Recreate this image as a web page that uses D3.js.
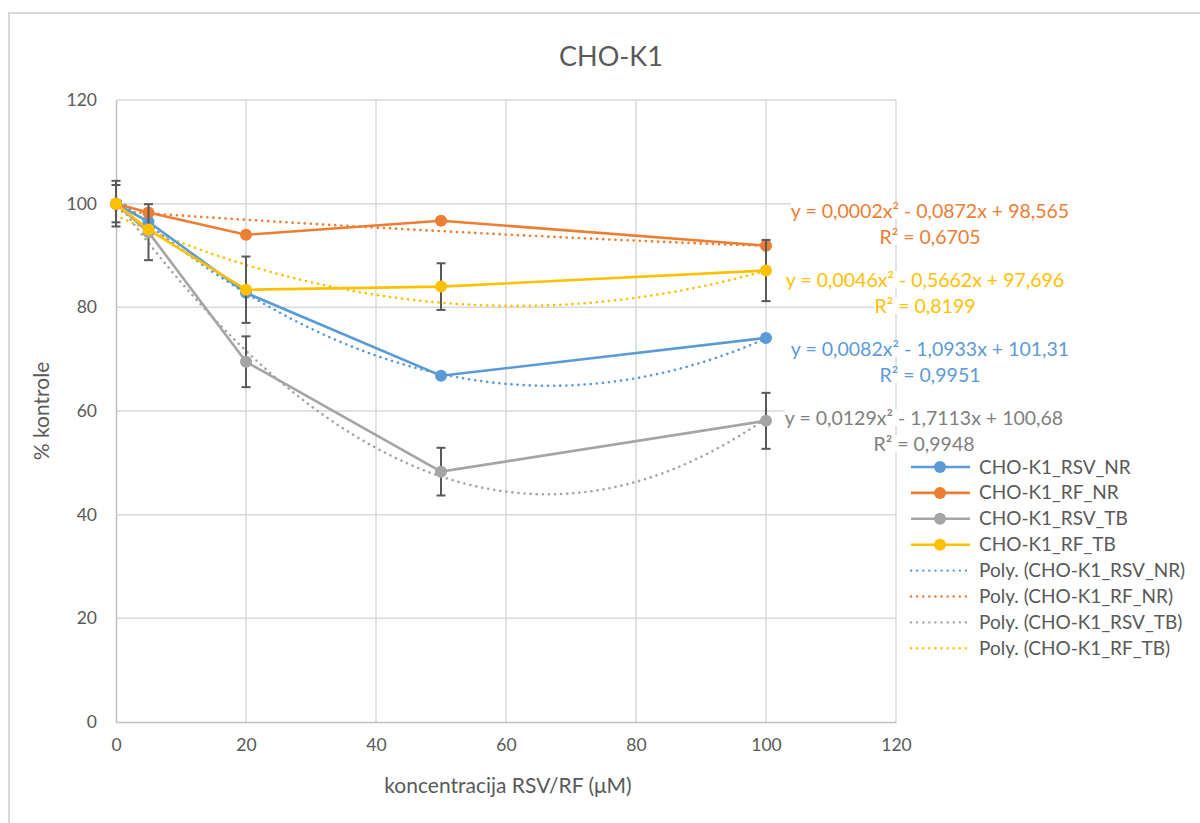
<!DOCTYPE html>
<html><head><meta charset="utf-8">
<script src="https://cdn.jsdelivr.net/npm/d3@7/dist/d3.min.js"></script>
<style>body{margin:0;background:#fff}svg{display:block}text{font-family:Lato,"Open Sans",sans-serif}</style>
</head><body><svg id="c" width="1200" height="823"></svg>
<script>
const concentrations = [0, 5, 20, 50, 100];
const seriesNames = ["CHO-K1_RSV_NR", "CHO-K1_RF_NR", "CHO-K1_RSV_TB", "CHO-K1_RF_TB"];
const seriesColors = ["#5B9BD5", "#ED7D31", "#A5A5A5", "#FFC000"];
const rsvNR = [100, 96.5, 82.8, 66.8, 74.1];
const rfNR  = [100, 98.3, 94.0, 96.7, 91.9];
const rsvTB = [100, 94.5, 69.5, 48.3, 58.1];
const rfTB  = [100, 95.0, 83.4, 84.0, 87.1];
// error bar half-widths (null = none visible)
const rsvNRErr = [3.6, null, null, null, null];
const rfNRErr  = [null, null, null, null, null];
const rsvTBErr = [4.4, 5.4, 4.9, 4.6, 5.4];
const rfTBErr  = [null, null, 6.4, 4.5, 5.9];
// polynomial trendline coefficients [a, b, c] : a x² + b x + c
const rsvNRPoly = [0.0082, -1.0933, 101.31];
const rfNRPoly  = [0.0002, -0.0872, 98.565];
const rsvTBPoly = [0.0129, -1.7113, 100.68];
const rfTBPoly  = [0.0046, -0.5662, 97.696];
const eqLabels = ["y = 0,0082x² - 1,0933x + 101,31", "y = 0,0002x² - 0,0872x + 98,565", "y = 0,0129x² - 1,7113x + 100,68", "y = 0,0046x² - 0,5662x + 97,696"];
const r2Labels = ["R² = 0,9951", "R² = 0,6705", "R² = 0,9948", "R² = 0,8199"];
const xTicks = [0, 20, 40, 60, 80, 100, 120];
const yTicks = [0, 20, 40, 60, 80, 100, 120];

const values = [rsvNR, rfNR, rsvTB, rfTB];
const errs = [rsvNRErr, rfNRErr, rsvTBErr, rfTBErr];
const polys = [rsvNRPoly, rfNRPoly, rsvTBPoly, rfTBPoly];

const svg = d3.select("#c");
const L = 116, R = 896, T = 100, B = 722;
const x = d3.scaleLinear().domain([0, 120]).range([L, R]);
const y = d3.scaleLinear().domain([0, 120]).range([B, T]);
const txt = "#595959";

// chart border
svg.append("rect").attr("x", 9).attr("y", 13).attr("width", 1300).attr("height", 900)
  .attr("fill", "#fff").attr("stroke", "#d9d9d9").attr("stroke-width", 2);

// title
svg.append("text").attr("x", 611).attr("y", 66).attr("text-anchor", "middle")
  .attr("font-size", 27).attr("fill", txt).text("CHO-K1");

// gridlines
const g = svg.append("g");
g.selectAll(".hg").data(yTicks.filter(d => d > 0)).join("line")
  .attr("x1", L).attr("x2", R).attr("y1", d => y(d)).attr("y2", d => y(d))
  .attr("stroke", "#d9d9d9").attr("stroke-width", 1.5);
g.selectAll(".vg").data(xTicks.filter(d => d > 0)).join("line")
  .attr("y1", T).attr("y2", B).attr("x1", d => x(d)).attr("x2", d => x(d))
  .attr("stroke", "#d9d9d9").attr("stroke-width", 1.5);

// axes
const xAxis = svg.append("g").attr("transform", `translate(0,${B})`)
  .call(d3.axisBottom(x).tickValues(xTicks).tickSize(0).tickPadding(17));
const yAxis = svg.append("g").attr("transform", `translate(${L},0)`)
  .call(d3.axisLeft(y).tickValues(yTicks).tickSize(0).tickPadding(19));
[xAxis, yAxis].forEach(a => {
  a.select(".domain").attr("stroke", "#bfbfbf").attr("stroke-width", 1.5);
  a.selectAll("text").attr("font-size", 17.5).attr("fill", txt).attr("font-family", "Lato");
});

svg.append("text").attr("x", 508).attr("y", 793).attr("text-anchor", "middle")
  .attr("font-size", 21).attr("fill", txt).text("koncentracija RSV/RF (μM)");
svg.append("text").attr("transform", "translate(49,411) rotate(-90)").attr("text-anchor", "middle")
  .attr("font-size", 21).attr("fill", txt).text("% kontrole");

// trend lines
const xs = d3.range(0, 100.01, 1);
const line = d3.line().x(d => x(d[0])).y(d => y(d[1])).curve(d3.curveLinear);
polys.forEach((p, i) => {
  svg.append("path").datum(xs.map(v => [v, p[0]*v*v + p[1]*v + p[2]]))
    .attr("d", line).attr("fill", "none").attr("stroke", seriesColors[i])
    .attr("stroke-width", 2.6).attr("stroke-dasharray", "0.1 6").attr("stroke-linecap", "round");
});

// series lines
values.forEach((vals, i) => {
  svg.append("path").datum(concentrations.map((c, k) => [c, vals[k]]))
    .attr("d", line).attr("fill", "none").attr("stroke", seriesColors[i]).attr("stroke-width", 2.6);
});

// markers and error bars
values.forEach((vals, i) => {
  const eb = svg.append("g");
  concentrations.forEach((c, k) => {
    const e = errs[i][k];
    if (e == null) return;
    const cx = x(c), y1 = y(vals[k] + e), y2 = y(vals[k] - e);
    eb.append("line").attr("x1", cx).attr("x2", cx).attr("y1", y1).attr("y2", y2);
    eb.append("line").attr("x1", cx - 4.5).attr("x2", cx + 4.5).attr("y1", y1).attr("y2", y1);
    eb.append("line").attr("x1", cx - 4.5).attr("x2", cx + 4.5).attr("y1", y2).attr("y2", y2);
  });
  eb.selectAll("line").attr("stroke", "#595959").attr("stroke-width", 2);
  svg.append("g").selectAll("circle").data(concentrations.map((c, k) => [c, vals[k]])).join("circle")
    .attr("cx", d => x(d[0])).attr("cy", d => y(d[1])).attr("r", 6)
    .attr("fill", seriesColors[i]);
});

// equation labels
const eqPos = [[930, 349], [930, 211], [924, 418], [925, 280]];
values.forEach((v, i) => {
  const [cx, cy] = eqPos[i];
  [eqLabels[i], r2Labels[i]].forEach((s, j) => {
    const t = svg.append("text").attr("x", cx).attr("y", cy + j * 26 + 7)
      .attr("text-anchor", "middle").attr("font-size", 19.5).attr("fill", seriesColors[i] === "#A5A5A5" ? "#7f7f7f" : seriesColors[i]).text(s);
    const bb = t.node().getBBox();
    svg.insert("rect", () => t.node()).attr("x", bb.x).attr("y", bb.y + 3).attr("width", bb.width).attr("height", bb.height - 6).attr("fill", "#fff");
  });
});

// legend
const leg = svg.append("g");
const legItems = seriesNames.map((n, i) => ({name: n, color: seriesColors[i], dotted: false}))
  .concat(seriesNames.map((n, i) => ({name: `Poly. (${n})`, color: seriesColors[i], dotted: true})));
legItems.forEach((d, k) => {
  const ly = 467 + k * 25.9;
  leg.append("line").attr("x1", 911).attr("x2", 970).attr("y1", ly).attr("y2", ly)
    .attr("stroke", d.color).attr("stroke-width", d.dotted ? 2.4 : 2.6)
    .attr("stroke-dasharray", d.dotted ? "0.1 6" : null).attr("stroke-linecap", d.dotted ? "round" : "butt");
  if (!d.dotted) leg.append("circle").attr("cx", 940).attr("cy", ly).attr("r", 6).attr("fill", d.color);
  leg.append("text").attr("x", 979).attr("y", ly + 6.5).attr("font-size", 19).attr("fill", txt).text(d.name);
});
</script></body></html>
